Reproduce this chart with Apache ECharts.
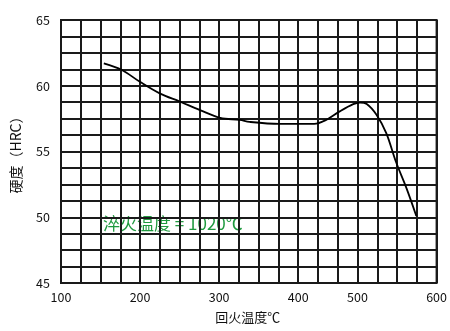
<!DOCTYPE html>
<html><head><meta charset="utf-8">
<script src="https://cdn.jsdelivr.net/npm/echarts@6/dist/echarts.min.js"></script>
<style>html,body{margin:0;padding:0;background:#fff}#c{width:450px;height:331px}</style>
</head><body><div id="c"></div>
<script>
var temps = [157, 181, 205, 232, 258, 285, 312, 338, 351, 391, 437, 453, 471, 489, 498, 507, 520, 533, 546, 560, 573];
var hardness = [61.7, 61.2, 60.3, 59.4, 58.8, 58.15, 57.55, 57.4, 57.25, 57.1, 57.1, 57.4, 58.05, 58.6, 58.72, 58.62, 57.8, 56.4, 54.2, 52.2, 50.1];
var xTickLabels = ['100', '200', '300', '400', '500', '600'];
var yTickLabels = ['45', '50', '55', '60', '65'];
var annotation = '淬火温度 = 1020℃';
var xName = '回火温度℃';
var yName = '硬度（HRC）';

var labelCells = [0, 4, 8, 12, 15, 19];
var data = temps.map(function (t, i) { return [t, hardness[i]]; });
var font = '"Noto Sans CJK SC", "Noto Sans", sans-serif';
var chart = echarts.init(document.getElementById('c'));
chart.setOption({
  animation: false,
  grid: { left: 61, top: 20, width: 376, height: 263, show: true, borderColor: '#1a1a1a', borderWidth: 2 },
  xAxis: [{
    type: 'value', min: 0, max: 19, interval: 1,
    axisLine: { show: false }, axisTick: { show: false },
    splitLine: { show: true, lineStyle: { color: '#1a1a1a', width: 2 } },
    axisLabel: {
      color: '#111', fontSize: 12.5, fontFamily: font, margin: 8,
      formatter: function (v) { var k = labelCells.indexOf(Math.round(v)); return k >= 0 ? xTickLabels[k] : ''; }
    },
    name: xName, nameLocation: 'middle', nameGap: 28,
    nameTextStyle: { color: '#111', fontSize: 13, fontFamily: font, padding: [0, 0, 0, -2] }
  }, {
    type: 'value', min: 100, max: 600, show: false
  }],
  yAxis: {
    type: 'value', min: 45, max: 65, interval: 1.25,
    axisLine: { show: false }, axisTick: { show: false },
    splitLine: { show: true, lineStyle: { color: '#1a1a1a', width: 2 } },
    axisLabel: {
      color: '#111', fontSize: 12.5, fontFamily: font, margin: 11,
      formatter: function (v) { var s = String(Math.round(v)); return (Math.abs(v % 5) < 1e-6 && yTickLabels.indexOf(s) >= 0) ? s : ''; }
    },
    name: yName, nameLocation: 'middle', nameGap: 38, nameRotate: 90,
    nameTextStyle: { color: '#111', fontSize: 14, fontFamily: font }
  },
  graphic: [{
    type: 'text', left: 103, top: 215,
    style: { text: annotation, fill: '#1f9a3f', fontSize: 17, fontFamily: font }
  }],
  series: [{
    type: 'line', xAxisIndex: 1, data: data, smooth: 0.35, showSymbol: false,
    lineStyle: { color: '#000', width: 1.8 }
  }]
});
</script></body></html>
